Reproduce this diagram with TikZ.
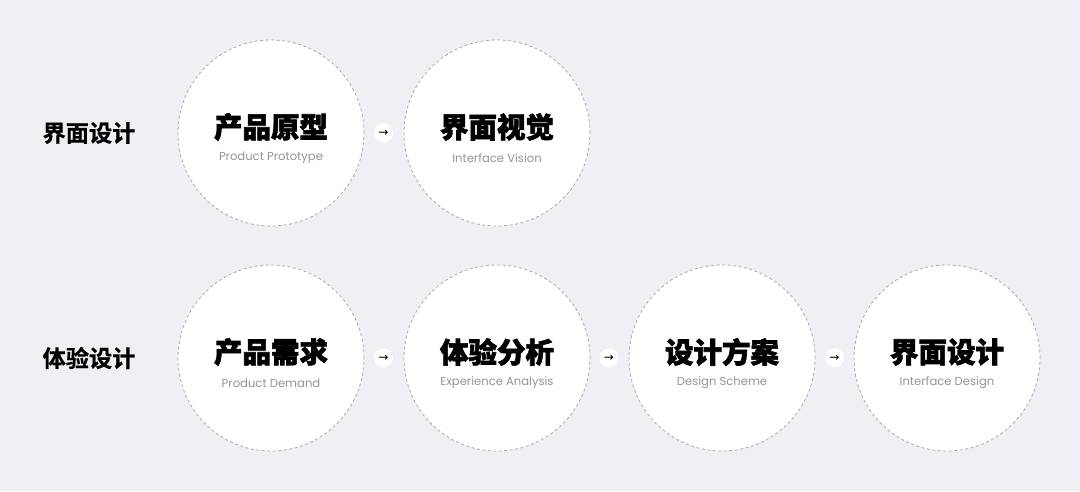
\documentclass[tikz,border=0pt]{standalone}
\usepackage{fontspec}
\setmainfont{Poppins}
\newfontfamily\cjkheavy[FakeBold=2.2]{Noto Sans CJK SC Black}
\newfontfamily\cjkbold[FakeBold=0.6]{Noto Sans CJK SC Bold}
\newfontfamily\symfont{DejaVu Sans}
\definecolor{bg}{HTML}{EEF0F4}
\definecolor{ring}{HTML}{ABABAB}
\definecolor{subgray}{HTML}{959595}
\tikzset{
  stage/.style={circle, minimum size=186pt, inner sep=0pt, fill=white, draw=ring, line width=0.8pt, dash pattern=on 3pt off 2.5pt},
  title/.style={font=\cjkheavy\fontsize{28.5}{30}\selectfont, text=black, inner sep=0pt, anchor=center},
  subtitle/.style={font=\fontsize{11.6}{13}\selectfont, text=subgray, inner sep=0pt, anchor=center},
  rowlabel/.style={font=\cjkbold\fontsize{23.2}{24}\selectfont, text=black, inner sep=0pt, anchor=center},
  arrowdot/.style={circle, fill=white, minimum size=19pt, inner sep=0pt, font=\symfont\fontsize{12}{12}\selectfont}
}
\begin{document}
\begin{tikzpicture}[x=1pt,y=-1pt]
\fill[bg] (0,0) rectangle (1080,491);
\useasboundingbox (0,0) rectangle (1080,491);

% row labels
\node[rowlabel] (l1) at (89,133) {界面设计};
\node[rowlabel] (l2) at (89,358) {体验设计};

% row 1
\node[stage] (a1) at (271,133) {};
\node[stage] (a2) at (497,133) {};
\node[title] (a1t) at (271,127) {产品原型};
\node[subtitle] (a1s) at (271,158) {Product Prototype};
\node[title] (a2t) at (497,127) {界面视觉};
\node[subtitle] (a2s) at (497,158) {Interface Vision};
\node[arrowdot] (ar1) at (383.5,133) {→};

% row 2
\node[stage] (b1) at (271,358) {};
\node[stage] (b2) at (497,358) {};
\node[stage] (b3) at (722,358) {};
\node[stage] (b4) at (947,358) {};
\node[title] (b1t) at (271,352) {产品需求};
\node[subtitle] (b1s) at (271,383) {Product Demand};
\node[title] (b2t) at (497,352) {体验分析};
\node[subtitle] (b2s) at (497,383) {Experience Analysis};
\node[title] (b3t) at (722,352) {设计方案};
\node[subtitle] (b3s) at (722,383) {Design Scheme};
\node[title] (b4t) at (947,352) {界面设计};
\node[subtitle] (b4s) at (947,383) {Interface Design};
\node[arrowdot] (br1) at (383.5,358) {→};
\node[arrowdot] (br2) at (609,358) {→};
\node[arrowdot] (br3) at (834.5,358) {→};
\end{tikzpicture}
\end{document}
